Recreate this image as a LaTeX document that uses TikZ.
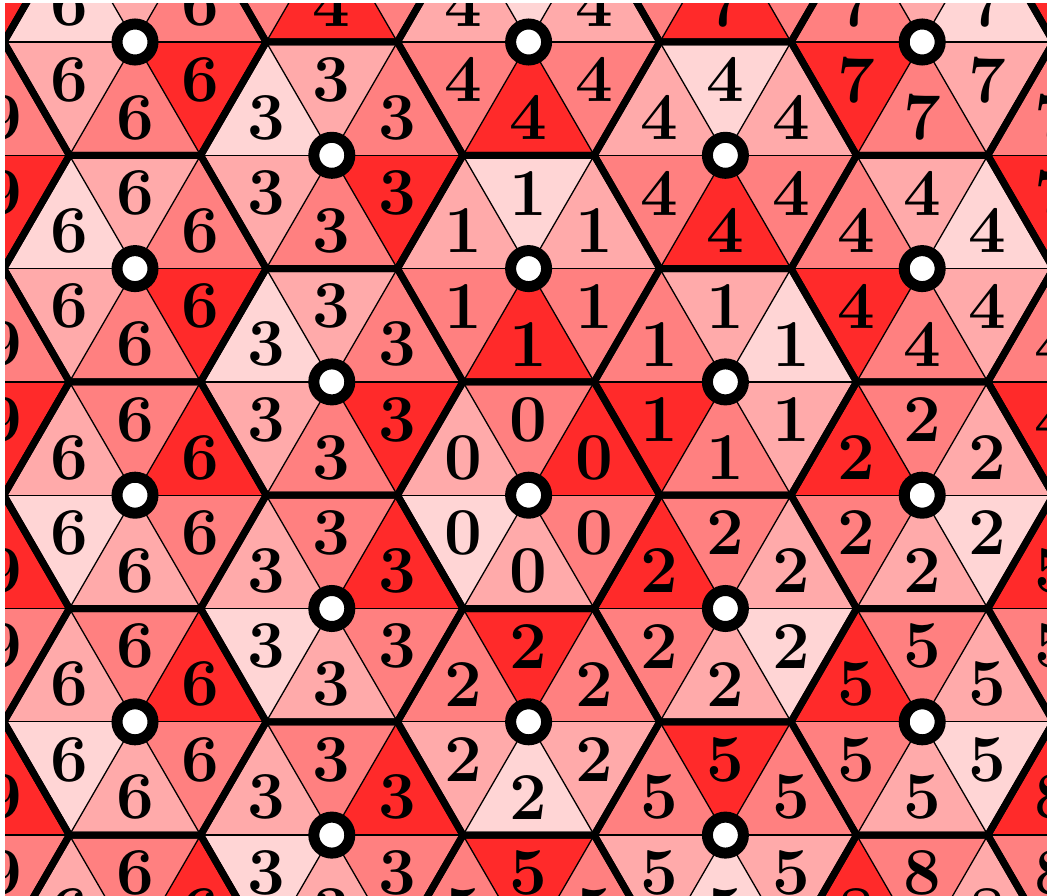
\documentclass[tikz,border=0pt]{standalone}
\definecolor{cR}{HTML}{FF2A2A}
\definecolor{cM}{HTML}{FF8080}
\definecolor{cL}{HTML}{FFAAAA}
\definecolor{cP}{HTML}{FFD5D5}
% column / row-step / label / direction of the red triangle (0=top,1=upper right,2=lower right,3=bottom,4=lower left,5=upper left)
\def\hexlist{-1/-1//2, -1/1/9/2, -1/3/9/2, -1/5/9/1, -1/7/9/1,
 0/0/6/2, 0/2/6/2, 0/4/6/1, 0/6/6/1, 0/8/6/1,
 1/-1/4/3, 1/1/3/2, 1/3/3/2, 1/5/3/1, 1/7/3/1,
 2/0/4/3, 2/2/1/3, 2/4/0/1, 2/6/2/0, 2/8/5/0,
 3/-1/7/3, 3/1/4/3, 3/3/1/4, 3/5/2/5, 3/7/5/0,
 4/0/7/4, 4/2/4/4, 4/4/2/5, 4/6/5/5, 4/8/8/5,
 5/-1//4, 5/1/7/4, 5/3/4/4, 5/5/5/5, 5/7/8/5}
\def\trilist{0/-0.5/-1/0.5/-1, 1/0.5/-1/1/0, 2/1/0/0.5/1, 3/0.5/1/-0.5/1, 4/-0.5/1/-1/0, 5/-1/0/-0.5/-1}
\begin{document}
\begin{tikzpicture}[x=1pt,y=-1pt,
  thinedge/.style={line width=1.3pt, draw=black},
  thickedge/.style={line width=7pt, draw=black, line join=round},
  hub/.style={circle, draw=black, fill=white, line width=11pt, minimum size=36pt, inner sep=0pt},
  lbl/.style={font=\fontsize{67}{67}\selectfont\bfseries, inner sep=0pt, text=black}]
\useasboundingbox (0,0) rectangle (1047,896);
\fill[white] (0,0) rectangle (1047,896);
\begin{scope}
\clip (5,4) rectangle (1047,895);
% triangle fills
\foreach \k/\m/\lab/\rd in \hexlist {
  \pgfmathsetmacro\cx{135+196.8*\k}
  \pgfmathsetmacro\cy{42+113.3*\m}
  \foreach \ti/\ax/\ay/\bx/\by in \trilist {
    \pgfmathtruncatemacro\dd{mod(\ti-\rd+12,6)}
    \edef\col{\ifcase\dd cR\or cM\or cL\or cP\or cL\or cM\fi}
    \fill[fill=\col] (\cx,\cy) -- ({\cx+\ax*131.2},{\cy+\ay*113.3}) -- ({\cx+\bx*131.2},{\cy+\by*113.3}) -- cycle;
  }
}
% thin inner edges
\foreach \k/\m/\lab/\rd in \hexlist {
  \pgfmathsetmacro\cx{135+196.8*\k}
  \pgfmathsetmacro\cy{42+113.3*\m}
  \draw[thinedge] ({\cx-65.6},{\cy-113.3}) -- ({\cx+65.6},{\cy+113.3});
  \draw[thinedge] ({\cx+65.6},{\cy-113.3}) -- ({\cx-65.6},{\cy+113.3});
  \draw[thinedge] ({\cx-131.2},{\cy}) -- ({\cx+131.2},{\cy});
}
% thick hexagon outlines
\foreach \k/\m/\lab/\rd in \hexlist {
  \pgfmathsetmacro\cx{135+196.8*\k}
  \pgfmathsetmacro\cy{42+113.3*\m}
  \draw[thickedge] ({\cx-65.6},{\cy-113.3}) -- ({\cx+65.6},{\cy-113.3}) -- ({\cx+131.2},{\cy})
     -- ({\cx+65.6},{\cy+113.3}) -- ({\cx-65.6},{\cy+113.3}) -- ({\cx-131.2},{\cy}) -- cycle;
}
% hubs and labels
\foreach \k/\m/\lab/\rd in \hexlist {
  \pgfmathsetmacro\cx{135+196.8*\k}
  \pgfmathsetmacro\cy{42+113.3*\m}
  \node[hub] (hub\k x\m) at (\cx,\cy) {};
  \foreach \ti/\ax/\ay/\bx/\by in \trilist {
    \node[lbl] (lab\k x\m x\ti) at ({\cx+(\ax+\bx)*131.2/3},{\cy+(\ay+\by)*113.3/3}) {\lab};
  }
}
\end{scope}
\end{tikzpicture}
\end{document}
